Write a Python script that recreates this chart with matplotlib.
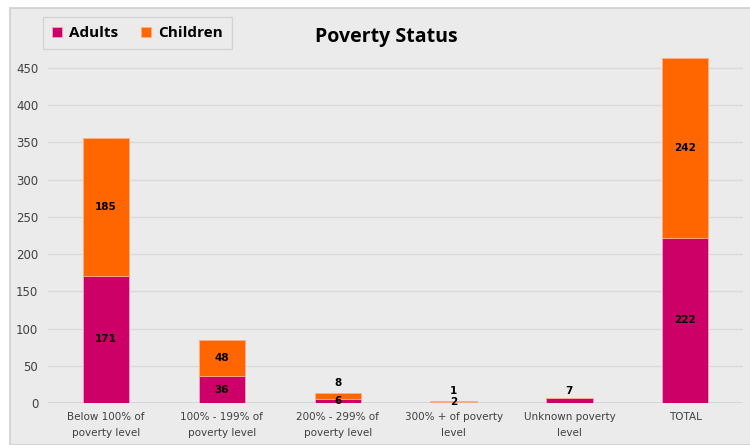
import numpy as np
import matplotlib
matplotlib.use("Agg")
import matplotlib.pyplot as plt
from matplotlib.patches import Rectangle

categories = ["Below 100% of\npoverty level", "100% - 199% of\npoverty level",
              "200% - 299% of\npoverty level", "300% + of poverty\nlevel",
              "Unknown poverty\nlevel", "TOTAL"]
adults = [171, 36, 6, 2, 7, 222]
children = [185, 48, 8, 1, 0, 242]
yticks = [0, 50, 100, 150, 200, 250, 300, 350, 400, 450]

c_adult = "#cc0066"
c_child = "#ff6600"
bg = "#ebebeb"

plt.rcParams['font.family'] = ['Liberation Sans Narrow', 'DejaVu Sans']

fig = plt.figure(figsize=(7.5, 4.45), dpi=100)
fig.patch.set_facecolor("white")
fig.patches.append(Rectangle((10 / 750, 0), 1, 437 / 445, transform=fig.transFigure,
                             facecolor=bg, edgecolor="#cfcfcf", lw=1.2, zorder=-5))

ax = fig.add_axes([0.064, 0.0944, 0.927, 0.803])
ax.set_facecolor(bg)
x = np.arange(len(categories))
w = 0.4
ax.bar(x, adults, w, color=c_adult, edgecolor="#f2a0c8", lw=0.6, label="Adults", zorder=3)
ax.bar(x, children, w, bottom=adults, color=c_child, edgecolor="#ffb080", lw=0.6,
       label="Children", zorder=3)

lab = dict(ha="center", va="center", fontsize=7.5, fontweight="bold", color="black", zorder=4)
for i in x:
    a, c = adults[i], children[i]
    if c == 0:
        ax.annotate(str(a), (i, a), xytext=(0, 1.5), textcoords="offset points",
                    **{**lab, "va": "bottom"})
    else:
        ax.text(i, a / 2, str(a), **lab)
        if c < 12:
            ax.annotate(str(c), (i, a + c), xytext=(0, 3.5), textcoords="offset points",
                        **{**lab, "va": "bottom"})
        else:
            ax.text(i, a + c / 2, str(c), **lab)

ax.set_xlim(-0.5, len(categories) - 0.5)
ax.set_ylim(0, 480)
ax.set_yticks(yticks)
ax.set_xticks(x)
ax.set_xticklabels(categories, fontsize=7.5, color="#404040", linespacing=1.8)
ax.tick_params(axis="y", labelsize=8.5, labelcolor="#404040", length=0, pad=7)
ax.tick_params(axis="x", length=0, pad=6.5)
ax.yaxis.grid(True, color="#dadada", lw=1, zorder=0)
ax.set_axisbelow(True)
for s in ax.spines.values():
    s.set_visible(False)
ax.axhline(0, color="#d4d4d4", lw=1.2, zorder=2)

fig.text(0.515, 0.916, "Poverty Status", ha="center", va="center", fontsize=14,
         fontweight="bold", color="black", family=["Open Sans", "DejaVu Sans"])

leg = ax.legend(loc="upper left", bbox_to_anchor=(43 / 750, 1 - 17 / 445),
                bbox_transform=fig.transFigure, ncol=2, frameon=True, fancybox=False,
                prop={"family": ["Open Sans", "DejaVu Sans"], "weight": "bold", "size": 11},
                handlelength=0.65, handleheight=0.65, handletextpad=0.45, columnspacing=1.5,
                borderpad=0.6, borderaxespad=0)
leg.get_frame().set_facecolor(bg)
leg.get_frame().set_edgecolor("#cfcfcf")
leg.get_frame().set_linewidth(1.0)

fig.savefig("out.png", dpi=100, facecolor="white")
